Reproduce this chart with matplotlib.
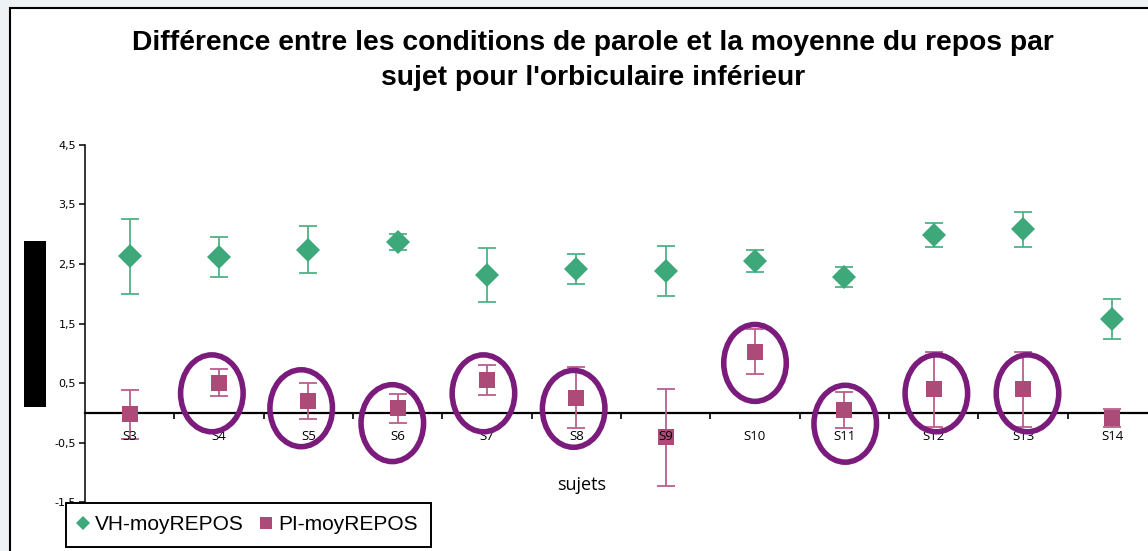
import matplotlib
matplotlib.use("Agg")
import matplotlib.pyplot as plt
from matplotlib.patches import Ellipse, Rectangle
from matplotlib.lines import Line2D

# ---- data ----
subjects = ["S3", "S4", "S5", "S6", "S7", "S8", "S9", "S10", "S11", "S12", "S13", "S14"]
vh_mean = [2.63, 2.62, 2.74, 2.87, 2.32, 2.42, 2.38, 2.55, 2.28, 2.98, 3.08, 1.58]
vh_err = [0.63, 0.33, 0.39, 0.14, 0.45, 0.25, 0.42, 0.19, 0.17, 0.20, 0.29, 0.34]
pi_mean = [-0.02, 0.51, 0.20, 0.08, 0.55, 0.26, -0.41, 1.03, 0.05, 0.40, 0.40, -0.09]
pi_err = [0.41, 0.22, 0.30, 0.24, 0.25, 0.52, 0.82, 0.38, 0.30, 0.63, 0.63, 0.15]
yticks = [-1.5, -0.5, 0.5, 1.5, 2.5, 3.5, 4.5]
ytick_labels = ["-1,5", "-0,5", "0,5", "1,5", "2,5", "3,5", "4,5"]
series_names = ["VH-moyREPOS", "PI-moyREPOS"]
# hand-drawn highlight ellipses (subject, x offset, y centre)
circled = ["S4", "S5", "S6", "S7", "S8", "S10", "S11", "S12", "S13"]
circle_dx = [-0.08, -0.08, -0.06, -0.04, -0.03, 0.0, 0.01, 0.03, 0.05]
circle_y = [0.33, 0.08, -0.17, 0.33, 0.07, 0.84, -0.18, 0.33, 0.33]

title1 = "Différence entre les conditions de parole et la moyenne du repos par"
title2 = "sujet pour l'orbiculaire inférieur"

GREEN = "#3DA87A"
GREEN_E = "#4FB386"
PINK = "#AC4A78"
PINK_E = "#BA5F8E"
PURPLE = "#7B1B7B"

W, H = 1148, 551
fig = plt.figure(figsize=(W / 100, H / 100), dpi=100)
fig.patch.set_facecolor("#EEF2F5")

# white frame
fig.patches.append(Rectangle((10 / W, -0.1), 1.2, (H - 8) / H + 0.1,
                             transform=fig.transFigure, facecolor="white",
                             edgecolor="black", linewidth=1.5, zorder=-2))
# redacted black block on left
fig.patches.append(Rectangle((24 / W, (H - 407) / H), 22 / W, 166 / H,
                             transform=fig.transFigure, facecolor="black",
                             edgecolor="none", zorder=-1))

ax = fig.add_axes([85 / W, (H - 502.4) / H, (1157 - 85) / W, 357.6 / H])
ax.set_zorder(2)
ax.set_facecolor("none")
x = list(range(len(subjects)))

ax.errorbar(x, vh_mean, yerr=vh_err, fmt="none", ecolor=GREEN_E, elinewidth=1.3,
            capsize=6.2, capthick=1.3, zorder=3)
ax.plot(x, vh_mean, linestyle="none", marker="D", markersize=12,
        color=GREEN, markeredgewidth=0, zorder=4)
ax.errorbar(x, pi_mean, yerr=pi_err, fmt="none", ecolor=PINK_E, elinewidth=1.3,
            capsize=6.2, capthick=1.3, zorder=3)
ax.plot(x, pi_mean, linestyle="none", marker="s", markersize=11.5,
        color=PINK, markeredgewidth=0, zorder=4)

for name, dx, cy in zip(circled, circle_dx, circle_y):
    i = subjects.index(name)
    ax.add_patch(Ellipse((i + dx, cy), 0.70, 1.29, fill=False,
                         edgecolor=PURPLE, linewidth=4.0, zorder=5))

ax.set_xlim(-0.5, len(subjects) - 0.5)
ax.set_ylim(-1.5, 4.5)

for s in ["top", "right"]:
    ax.spines[s].set_visible(False)
ax.spines["bottom"].set_position(("data", 0))
ax.spines["bottom"].set_linewidth(1.6)
ax.spines["left"].set_linewidth(1.1)

ax.set_xticks(x)
ax.set_xticklabels(subjects, fontfamily="Open Sans", fontsize=9.5)
ax.set_xticks([i + 0.5 for i in x[:-1]], minor=True)
ax.tick_params(axis="x", which="major", length=0, pad=12)
ax.tick_params(axis="x", which="minor", length=4, width=1.2, direction="out")
ax.xaxis.set_zorder(4.5)

ax.set_yticks(yticks)
ax.set_yticklabels(ytick_labels, fontfamily="DejaVu Sans", fontsize=8)
ax.tick_params(axis="y", length=4, width=1.1, pad=2.5)

fig.text(582 / W, (H - 485) / H, "sujets", ha="center", va="center",
         fontsize=13, fontfamily="Open Sans")

fig.text(593 / W, (H - 50) / H, title1, ha="center", va="baseline",
         fontsize=20.3, fontweight="bold", fontfamily="Liberation Sans")
fig.text(593 / W, (H - 85) / H, title2, ha="center", va="baseline",
         fontsize=20.3, fontweight="bold", fontfamily="Liberation Sans")

handles = [Line2D([], [], linestyle="none", marker="D", markersize=7,
                  color=GREEN, markeredgewidth=0),
           Line2D([], [], linestyle="none", marker="s", markersize=8.6,
                  color=PINK, markeredgewidth=0)]
leg = fig.legend(handles, series_names, loc="upper left",
                 bbox_to_anchor=(66 / W, (H - 502.7) / H), ncol=2,
                 frameon=True, fancybox=False, framealpha=1,
                 edgecolor="black", prop={"family": "Liberation Sans", "size": 15},
                 handlelength=0.4, handletextpad=0.4, columnspacing=0.85,
                 borderpad=0.6, borderaxespad=0)
leg.get_frame().set_linewidth(1.4)
leg.set_zorder(10)

fig.savefig("out.png", dpi=100, facecolor=fig.get_facecolor())
